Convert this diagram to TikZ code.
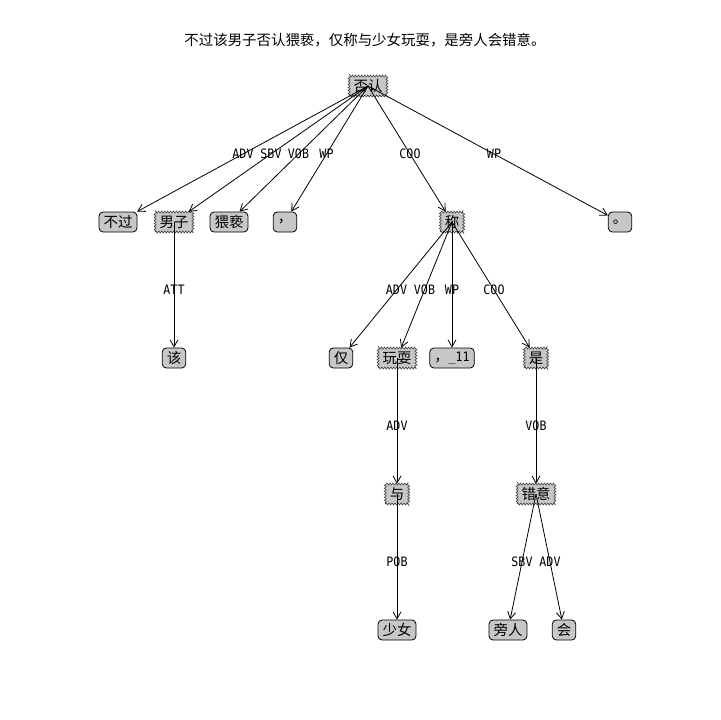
\documentclass[tikz,border=0pt]{standalone}
\usepackage{fontspec}
\setmainfont{DejaVu Sans Mono}[FakeStretch=0.9]
\newfontfamily\cjk{Noto Sans CJK SC}
\usetikzlibrary{arrows.meta,calc,decorations.pathmorphing}

\begin{document}
\begin{tikzpicture}[x=1bp,y=-1bp,>={Straight Barb[length=7bp,width=8bp]},line width=0.8bp,
    word/.style={font=\cjk\fontsize{14.5}{16}\selectfont, fill=black!22, inner xsep=4.5bp,
      inner ysep=0bp, minimum height=20bp},
    leaf/.style={word, draw, rounded corners=4bp},
    head/.style={word, draw=black!75, line width=0.6bp, decorate,
      decoration={zigzag, segment length=3bp, amplitude=1bp}},
    lab/.style={font=\fontsize{13}{14}\selectfont, inner sep=0pt}]
    \useasboundingbox (0,0) rectangle (720,720);
    \node[font=\cjk\fontsize{14.5}{16}\selectfont] (title) at (365,40) {不过该男子否认猥亵，仅称与少女玩耍，是旁人会错意。};

    \node[head] (fouren) at (368,86) {否认};
    \node[leaf] (buguo) at (118,222) {不过};
    \node[head] (nanzi) at (174,222) {男子};
    \node[leaf] (weixie) at (229,222) {猥亵};
    \node[leaf] (dou1) at (285,222) {，};
    \node[head] (cheng) at (452,222) {称};
    \node[leaf] (ju) at (620,222) {。};
    \node[leaf] (gai) at (174,358) {该};
    \node[leaf] (jin) at (341,358) {仅};
    \node[head] (wanshua) at (397,358) {玩耍};
    \node[leaf] (dou2) at (452,358) {，{\rmfamily\fontsize{13}{14}\selectfont\_11}};
    \node[head] (shi) at (536,358) {是};
    \node[head] (yu) at (397,494) {与};
    \node[head] (cuoyi) at (536,494) {错意};
    \node[leaf] (shaonv) at (397,630) {少女};
    \node[leaf] (pangren) at (508,630) {旁人};
    \node[leaf] (hui) at (564,630) {会};

    \path[->] (fouren.center) edge (buguo) ($(fouren)!.5!(buguo)$) node[lab] {ADV};
    \path[->] (fouren.center) edge (nanzi) ($(fouren)!.5!(nanzi)$) node[lab] {SBV};
    \path[->] (fouren.center) edge (weixie) ($(fouren)!.5!(weixie)$) node[lab] {VOB};
    \path[->] (fouren.center) edge (dou1) ($(fouren)!.5!(dou1)$) node[lab] {WP};
    \path[->] (fouren.center) edge (cheng) ($(fouren)!.5!(cheng)$) node[lab] {COO};
    \path[->] (fouren.center) edge (ju) ($(fouren)!.5!(ju)$) node[lab] {WP};
    \path[->] (nanzi.center) edge (gai) ($(nanzi)!.5!(gai)$) node[lab] {ATT};
    \path[->] (cheng.center) edge (jin) ($(cheng)!.5!(jin)$) node[lab] {ADV};
    \path[->] (cheng.center) edge (wanshua) ($(cheng)!.5!(wanshua)$) node[lab] {VOB};
    \path[->] (cheng.center) edge (dou2) ($(cheng)!.5!(dou2)$) node[lab] {WP};
    \path[->] (cheng.center) edge (shi) ($(cheng)!.5!(shi)$) node[lab] {COO};
    \path[->] (wanshua.center) edge (yu) ($(wanshua)!.5!(yu)$) node[lab] {ADV};
    \path[->] (shi.center) edge (cuoyi) ($(shi)!.5!(cuoyi)$) node[lab] {VOB};
    \path[->] (yu.center) edge (shaonv) ($(yu)!.5!(shaonv)$) node[lab] {POB};
    \path[->] (cuoyi.center) edge (pangren) ($(cuoyi)!.5!(pangren)$) node[lab] {SBV};
    \path[->] (cuoyi.center) edge (hui) ($(cuoyi)!.5!(hui)$) node[lab] {ADV};
\end{tikzpicture}
\end{document}
